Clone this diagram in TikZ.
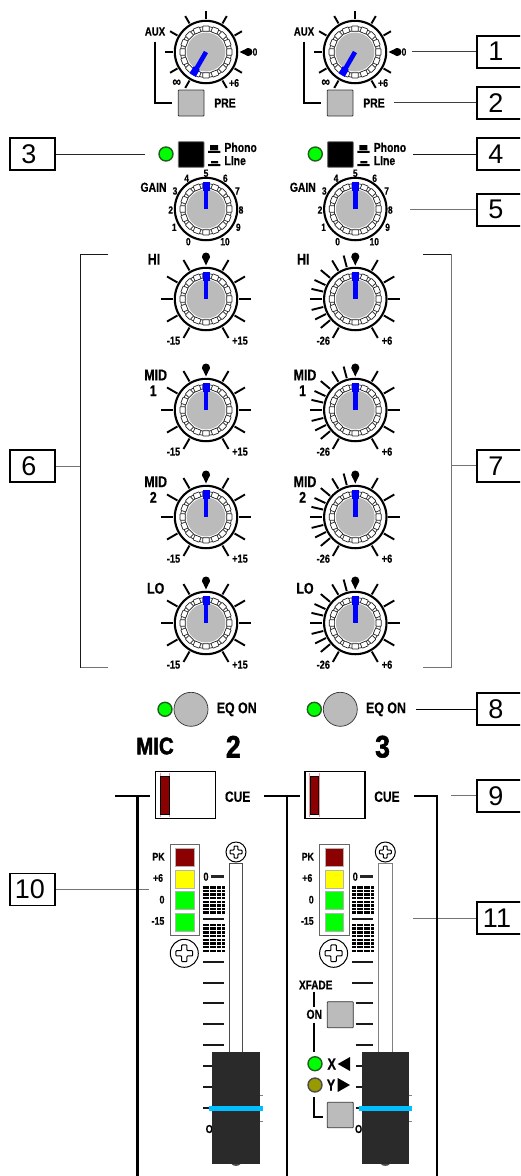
\documentclass[tikz,border=0pt]{standalone}
\usepackage{fontspec}
\setmainfont{Liberation Sans}
\newfontfamily\lab{Liberation Sans}[FakeStretch=0.8,FakeBold=0.4]
\newfontfamily\heavy{Liberation Sans}[FakeStretch=0.85,FakeBold=2]
\definecolor{knobgray}{HTML}{BBBBBB}
\definecolor{ledgreen}{HTML}{00FF00}
\definecolor{ledrim}{HTML}{1F5F1F}
\definecolor{ledred}{HTML}{8B0000}
\definecolor{ledyel}{HTML}{FFFF00}
\definecolor{ledolive}{HTML}{999900}
\definecolor{ptr}{HTML}{0000FF}
\definecolor{capc}{HTML}{2A2A2A}
\definecolor{strip}{HTML}{00BFFF}
\tikzset{
  lbl/.style={inner sep=0pt,font=\lab\bfseries\fontsize{#1}{#1}\selectfont},
  numbox/.style={draw=black,line width=1.7pt,minimum width=45pt,minimum height=32pt,inner sep=0pt,font=\fontsize{27}{27}\selectfont,fill=white},
  leader/.style={line width=1pt,color=#1},
  thick rule/.style={line width=2.4pt,color=black},
  tick mark/.style={line width=1.9pt,color=black,line cap=butt},
  link/.style={line width=0.7pt,draw=black!85,fill=white},
  btn/.style={draw=black!80,line width=0.8pt,fill=#1,rounded corners=0.7pt},
  led/.style={draw=#1,line width=1.4pt},
  scale rule/.style={line width=2.1pt,color=black!90},
}
\newcounter{tx}
\newcommand{\tl}[3][12]{\stepcounter{tx}\node[lbl=#1] (t\thetx) at (#2) {#3};}
% chain-ringed knob; #1 cx, #2 cy, #3 pointer angle
\newcommand{\knob}[3]{%
  \begin{scope}[shift={(#1,#2)}]
    \fill[white] (0,0) circle[radius=31pt];
    \draw[black!85,line width=0.7pt] (0,0) circle[radius=25.4pt];
    \draw[black!85,line width=0.7pt] (0,0) circle[radius=21.2pt];
    \foreach \a in {0,22.5,...,337.5}{\draw[link,rotate=\a,rounded corners=0.6pt] (20.7,-3.3) rectangle (26,3.3);}
    \fill[knobgray] (0,0) circle[radius=19.4pt];
    \draw[black,line width=2.1pt] (0,0) circle[radius=31.2pt];
    \draw[ptr,line width=4.6pt] (0,0) -- ({19*cos(#3)},{-19*sin(#3)});
    \draw[ptr,line width=7pt] ({18.5*cos(#3)},{-18.5*sin(#3)}) -- ({26.7*cos(#3)},{-26.7*sin(#3)});
  \end{scope}}
% tick marks at list #3 from r #4 to r #5
\newcommand{\knobticks}[5]{%
  \begin{scope}[shift={(#1,#2)}]
    \foreach \a in {#3}{\draw[tick mark] ({#4*cos(\a)},{-#4*sin(\a)}) -- ({#5*cos(\a)},{-#5*sin(\a)});}
  \end{scope}}
% teardrop index mark at angle #3
\newcommand{\tear}[3]{%
  \begin{scope}[shift={(#1,#2)}]
    \fill[black] ({33.5*cos(#3)},{-33.5*sin(#3)}) -- ({42*cos(#3)+4*sin(#3)},{-42*sin(#3)+4*cos(#3)})
      -- ({42*cos(#3)-4*sin(#3)},{-42*sin(#3)-4*cos(#3)}) -- cycle;
    \fill[black] ({42.5*cos(#3)},{-42.5*sin(#3)}) circle[radius=4pt];
  \end{scope}}
\newcommand{\screw}[3]{%
  \begin{scope}[shift={(#1,#2)},scale=#3]
    \draw[fill=white,line width=1pt] (0,0) circle[radius=10pt];
    \draw[fill=white,line width=1pt,rounded corners=0.8pt]
      (-1.9,-6)--(1.9,-6)--(1.9,-1.9)--(6,-1.9)--(6,1.9)--(1.9,1.9)--(1.9,6)--(-1.9,6)--(-1.9,1.9)--(-6,1.9)--(-6,-1.9)--(-1.9,-1.9)--cycle;
  \end{scope}}
\newcommand{\ledat}[5][ledgreen]{\draw[fill=#1,led=#2] (#3,#4) circle[radius=#5pt];}
% channel strip: #1 dx, #2 slot colour
\newcommand{\channelstrip}[2]{%
  \begin{scope}[xshift=#1pt]
    \draw[draw=black!60,line width=1pt,fill=white] (170,844) rectangle (199.7,935.7);
    \draw[btn=ledred,rounded corners=0pt,draw=black!30] (175.7,848.7) rectangle (194,866.7);
    \draw[btn=ledyel,rounded corners=0pt,draw=black!30] (175.7,870) rectangle (194,888.3);
    \draw[btn=ledgreen,rounded corners=0pt,draw=black!30] (175.7,891.7) rectangle (194,909.3);
    \draw[btn=ledgreen,rounded corners=0pt,draw=black!30] (175.7,913.3) rectangle (194,931);
    \tl[11]{158.5,856.7}{PK}
    \tl[11]{158,878}{+6}
    \tl[11]{162,899.7}{0}
    \tl[11]{158,921}{-15}
    \screw{184.3}{953.3}{1.4}
    \tl[11.5]{206,876.7}{0}
    \draw[line width=3pt,black!85] (210.7,876.7) -- (224,876.7);
    \foreach \yy in {887.3,891,894.6,898.2,901.8,905.4,909,912.6,925,928.7,932.4,936.1,939.8,943.5,947.2,950.9}{
      \draw[line width=2.5pt,black,dash pattern=on 2pt off 0.35pt] (202.7,\yy) -- (225,\yy);}
    \draw[scale rule] (203,919) -- (224,919);
    \draw[scale rule] (203,961.7) -- (224,961.7);
    \draw[scale rule] (203,982.7) -- (224,982.7);
    \tl[11.5]{209.3,1129}{O}
    \draw[draw=#2,line width=1pt,fill=white] (229.3,1056) -- (229.3,863.3) -- (242.7,863.3) -- (242.7,1056);
    \screw{236}{852}{1}
  \end{scope}}
\newcommand{\faderat}[1]{%
  \begin{scope}[xshift=#1pt]
    \draw[black!50,line width=0.5pt] (258,1095) -- (263,1095) (258,1121) -- (263,1121);
    \fill[capc] (212.3,1052.3) rectangle (260,1164);
    \fill[black!70] (231.5,1164) .. controls (233,1166.5) and (239,1166.5) .. (240.5,1164) -- cycle;
    \fill[strip] (209.3,1105.8) rectangle (262.7,1110.8);
  \end{scope}}
\begin{document}
\begin{tikzpicture}[x=1pt,y=-1pt]
\useasboundingbox (0,0) rectangle (520,1176);
\clip (0,0) rectangle (520,1176);
\fill[white] (0,0) rectangle (520,1176);

% ---- AUX section
\foreach \dx in {0,149}{
  \begin{scope}[xshift=\dx pt]
    \knobticks{206}{52}{30,60,90,120,150,180,210,240,300,330}{33}{41.5}
    \tear{206}{52}{0}
    \knob{206}{52}{240}
    \tl{155,31.5}{AUX}
    \tl[15]{176.7,83}{∞}
    \tl[11]{234,83}{+6}
    \tl[10.5]{255,52}{0}
    \draw[line width=1.7pt] (155,41.5) -- (155,103) -- (172,103);
    \draw[btn=knobgray] (178.3,90) rectangle (204,116);
    \tl[13]{225,103}{PRE}
  \end{scope}}

% ---- Phono / Line + gain
\foreach \dx in {0,149.3}{
  \begin{scope}[xshift=\dx pt]
    \ledat{ledrim}{166}{154}{7}
    \draw[btn=black,draw=black!55] (178.3,141.7) rectangle (204,167.3);
    \fill[black] (210,145) rectangle (218,150.2) (208,150.8) rectangle (220.3,152.8);
    \fill[black] (211,161) rectangle (218,163.3) (208,164) rectangle (220.3,166);
    \node[lbl=13,anchor=west] (ph\dx) at (224.3,147.3) {Phono};
    \node[lbl=13,anchor=west] (li\dx) at (224.3,160.7) {LIne};
    \knob{206}{209}{90}
    \tl[13]{153.5,187.3}{GAIN}
    \tl[10.5]{206,173.3}{5}
    \tl[10.5]{186.7,178.3}{4}
    \tl[10.5]{175,191}{3}
    \tl[10.5]{170.7,210}{2}
    \tl[10.5]{174.3,227.3}{1}
    \tl[10.5]{188.3,241.7}{0}
    \tl[10.5]{225,241.7}{10}
    \tl[10.5]{238.3,227.3}{9}
    \tl[10.5]{241,210}{8}
    \tl[10.5]{237.3,191}{7}
    \tl[10.5]{225.3,178.3}{6}
  \end{scope}}

% ---- EQ knobs: left column
\foreach \cy/\nm in {299/HI,410/MID,517/MID,623/LO}{
  \knobticks{206}{\cy}{0,30,60,120,150,180,210,240,300,330}{33}{45}
  \tear{206}{\cy}{90}
  \knob{206}{\cy}{90}
  \tl[11.5]{173.5,\cy+41.7}{-15}
  \tl[11.5]{240,\cy+41.7}{+15}
  \knobticks{355.3}{\cy}{0,30,60,105,121,140,155,167,180,194,207,220,240,300,330}{33}{45}
  \tear{355.3}{\cy}{90}
  \knob{355.3}{\cy}{90}
  \tl[11.5]{323.3,\cy+41.7}{-26}
  \tl[11.5]{387,\cy+41.7}{+6}
}
\foreach \dx in {0,149.3}{
  \begin{scope}[xshift=\dx pt]
    \tl[15.5]{154,259.3}{HI}
    \tl[15.5]{155.7,375}{MID}
    \tl[15.5]{153.3,390.7}{1}
    \tl[15.5]{155.7,481.7}{MID}
    \tl[15.5]{153.3,497.3}{2}
    \tl[15.5]{155.7,588.3}{LO}
    % EQ ON
    \fill[white] (170,705) rectangle (178,714);
    \draw[fill=knobgray,draw=black!80,line width=0.7pt] (191,709.3) circle[radius=17pt];
    \ledat{ledrim}{165}{709.3}{7}
    \tl[15.5]{236.7,709.3}{EQ ON}
    % CUE
    \draw[line width=1.1pt,fill=white] (155.7,771.7) rectangle (215.7,818.3);
    \draw[red!45,line width=0.4pt] (160.3,773) -- (160.3,817) (169.6,773) -- (169.6,817);
    \draw[fill=ledred,line width=0.9pt] (160.7,776.7) rectangle (169.3,814.3);
    \tl[15]{237.7,796.7}{CUE}
  \end{scope}}
\node[inner sep=0pt,font=\heavy\bfseries\fontsize{24}{24}\selectfont] (mic) at (155,746) {MIC};
\node[inner sep=0pt,font=\heavy\bfseries\fontsize{31}{31}\selectfont] (ch2) at (233.3,746.7) {2};
\node[inner sep=0pt,font=\heavy\bfseries\fontsize{31}{31}\selectfont] (ch3) at (382.6,746.7) {3};

% ---- fader scales left
\channelstrip{0}{black!70}
\foreach \yy in {1003.3,1024.3,1045.3,1066.3,1087.3,1108.3}{\draw[scale rule] (203,\yy) -- (224,\yy);}
\faderat{0}
% ---- fader scales right
\channelstrip{149.3}{black!50}
\foreach \yy in {1003.3,1024.3,1045.3,1066.3,1087.3,1108.3}{\draw[scale rule] (355.7,\yy) -- (373.3,\yy);}
\faderat{149.3}

% ---- XFADE block
\tl[12.5]{315.7,985}{XFADE}
\draw[line width=1.7pt] (314.3,991.7) -- (314.3,1006.7);
\tl[13]{314.3,1014.3}{ON}
\draw[line width=1.7pt] (314.3,1023.3) -- (314.3,1051.7);
\draw[btn=knobgray] (327.3,1001.7) rectangle (353.3,1027.7);
\ledat{ledrim}{315}{1063.7}{7}
\ledat[ledolive]{black!70}{315}{1085}{7}
\tl[16]{331.7,1064}{X}
\tl[16]{331,1085}{Y}
\fill[black] (337.7,1064) -- (350,1057) -- (350,1071) -- cycle;
\fill[black] (350,1085) -- (337.7,1078) -- (337.7,1092) -- cycle;
\draw[line width=1.7pt] (314.3,1097.3) -- (314.3,1116.7) -- (322.7,1116.7);
\draw[btn=knobgray] (327.3,1102.3) rectangle (353.3,1127.7);

% ---- number boxes
\node[numbox] (b1) at (499.5,51.7) {\hspace*{-7pt}1};
\node[numbox] (b2) at (499.5,102.8) {\hspace*{-7pt}2};
\node[numbox] (b3) at (32.5,154.3) {\hspace*{-7pt}3};
\node[numbox] (b4) at (499.5,154) {\hspace*{-7pt}4};
\node[numbox] (b5) at (499.5,209.8) {\hspace*{-7pt}5};
\node[numbox] (b6) at (32.5,466) {\hspace*{-7pt}6};
\node[numbox] (b7) at (499.5,465.8) {\hspace*{-7pt}7};
\node[numbox] (b8) at (499.5,709.3) {\hspace*{-7pt}8};
\node[numbox] (b9) at (499.5,795.8) {\hspace*{-7pt}9};
\node[numbox] (b10) at (32.5,889.5) {\hspace*{-5pt}10};
\node[numbox] (b11) at (499.5,918) {\hspace*{-5pt}11};

% ---- leader end points
\coordinate (c1) at (411.7,51.7);
\coordinate (c2) at (394,102.8);
\coordinate (c3) at (145,154.3);
\coordinate (c4) at (413,154);
\coordinate (c5) at (410,209.8);
\coordinate (c6) at (80.5,466);
\coordinate (c7) at (451,465.8);
\coordinate (c8) at (416,709.3);
\coordinate (c9) at (451,795.8);
\coordinate (c10) at (149,889.5);
\coordinate (c11) at (413,918);
\draw[leader=black!75] (c1) -- (b1);
\draw[leader=black!75] (c2) -- (b2);
\draw[leader=black!85] (c3) -- (b3);
\draw[leader=black!90] (c4) -- (b4);
\draw[leader=black!55] (c5) -- (b5);
\draw[leader=black!55] (c6) -- (b6);
\draw[leader=black!55] (c7) -- (b7);
\draw[leader=black] (c8) -- (b8);
\draw[leader=black!55] (c9) -- (b9);
\draw[leader=black!55] (c10) -- (b10);
\draw[leader=black!55] (c11) -- (b11);

% brackets
\coordinate (la) at (108,254.3); \coordinate (lb) at (80.5,254.3);
\coordinate (lc) at (80.5,667.7); \coordinate (ld) at (108,667.7);
\draw[leader=black!90] (la) -- (lb) -- (lc);
\draw[leader=black!55] (lc) -- (ld);
\coordinate (ra) at (423,254.3); \coordinate (rb) at (451,254.3);
\coordinate (rc) at (451,667.7); \coordinate (rd) at (423,667.7);
\draw[leader=black!90] (ra) -- (rb);
\draw[leader=black!55] (rb) -- (rc) -- (rd);

% ---- heavy channel rules
\draw[thick rule] (115,795.7) -- (150,795.7);
\draw[thick rule] (137.3,795.7) -- (137.3,1176);
\draw[thick rule] (264,795.7) -- (300,795.7);
\draw[thick rule] (286.7,795.7) -- (286.7,1176);
\draw[thick rule] (414,795.7) -- (437,795.7) -- (437,1176);
\end{tikzpicture}
\end{document}
